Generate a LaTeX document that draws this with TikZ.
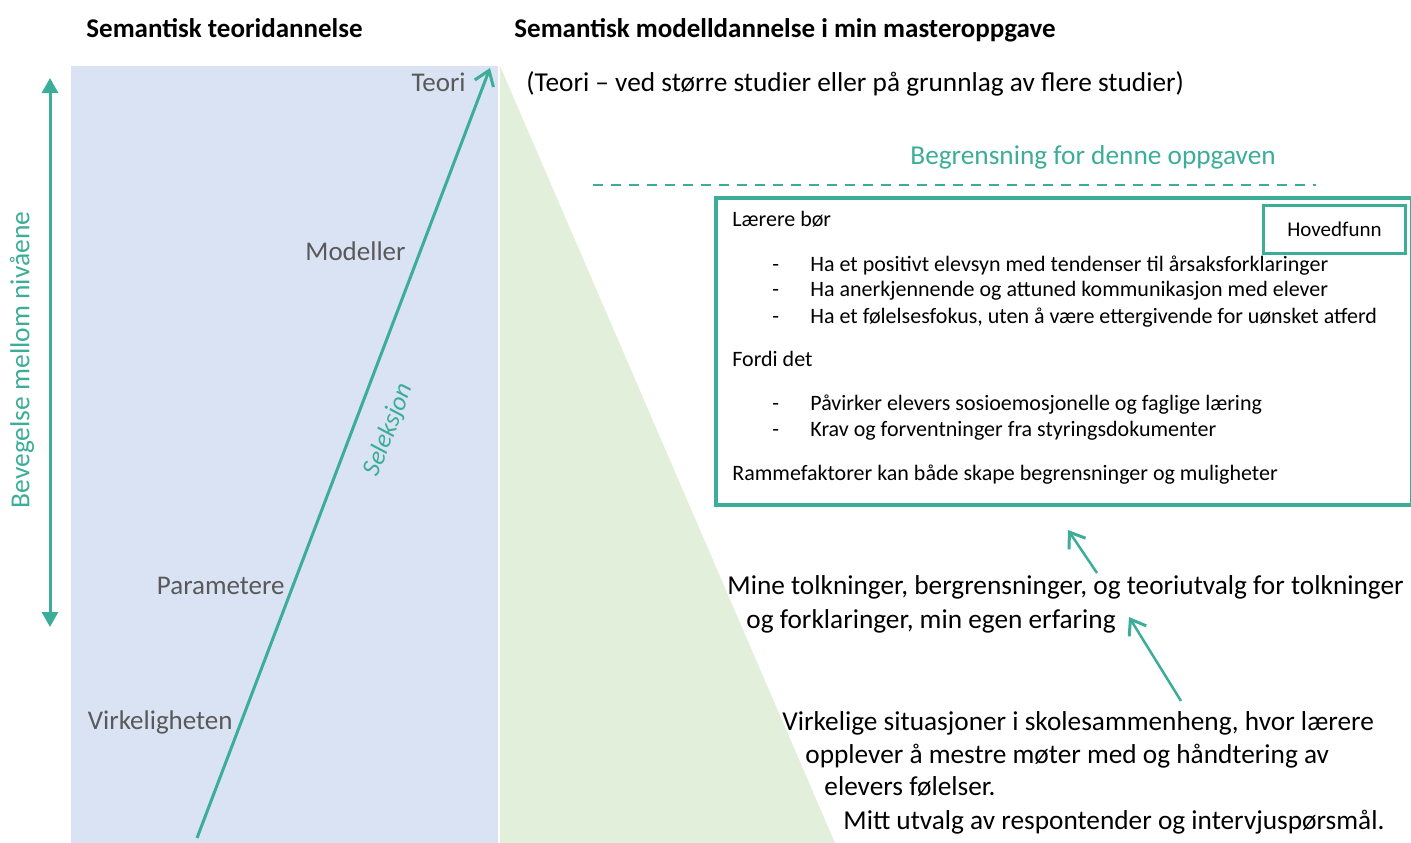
\documentclass[tikz,border=0pt]{standalone}
\usepackage{fontspec}
\setmainfont{Carlito}
\usetikzlibrary{positioning, arrows.meta}
\definecolor{tealline}{HTML}{3CAD98}
\definecolor{bluebg}{HTML}{DAE3F3}
\definecolor{greenbg}{HTML}{E2EFDA}
\definecolor{graytxt}{HTML}{595959}

\begin{document}
\begin{tikzpicture}[x=1pt, y=-1pt, thick,
    heading/.style={font=\bfseries\fontsize{27}{32}\selectfont, anchor=base west, inner sep=0pt},
    level/.style={font=\fontsize{27}{32}\selectfont, text=graytxt, anchor=base east, inner sep=0pt},
    body/.style={font=\fontsize{27.3}{32}\selectfont, anchor=base west, inner sep=0pt},
    boxtext/.style={font=\fontsize{22}{26}\selectfont, anchor=base west, inner sep=0pt},
    tealarrow/.style={draw=tealline, line width=3pt, -{Straight Barb[length=14pt, width=20pt, line width=3pt]}}]
        \useasboundingbox (0,0) rectangle (1411,843);

        % Background areas
        \fill[bluebg] (71,66) rectangle (498,843);
        \fill[greenbg] (500,66) -- (835,843) -- (500,843) -- cycle;

        % Headings
        \node[heading] (head1) at (86,38) {Semantisk teoridannelse};
        \node[heading] (head2) at (514,38) {Semantisk modelldannelse i min masteroppgave};

        % Left double arrow
        \coordinate (lvtop) at (50,78);
        \coordinate (lvbot) at (50,627);
        \draw[tealline, line width=3pt, {Triangle[length=15pt, width=16pt]}-{Triangle[length=15pt, width=16pt]}] (lvtop) -- (lvbot);
        \node[text=tealline, font=\fontsize{27.5}{32}\selectfont, rotate=90, inner sep=0pt] (beveg) at (22,360) {Bevegelse mellom nivåene};

        % Selection arrow and levels
        \coordinate (sel0) at (197,838);
        \coordinate (sel1) at (490,68);
        \draw[tealarrow] (sel0) -- (sel1);
        \node[text=tealline, font=\itshape\fontsize{26}{30}\selectfont, rotate=69, inner sep=0pt] (selek) at (389,430) {Seleksjon};
        \node[level] (teori) at (466,92) {Teori};
        \node[level] (modeller) at (406,260) {Modeller};
        \node[level] (param) at (285,594) {Parametere};
        \node[level] (virk) at (233,729) {Virkeligheten};

        % Right side texts
        \node[body] (note) at (526,92) {(Teori – ved større studier eller på grunnlag av flere studier)};
        \node[body, text=tealline] (begr) at (910,164) {Begrensning for denne oppgaven};
        \draw[tealline, line width=1.5pt, dash pattern=on 10pt off 8pt] (593,185) -- (1316,185);

        % Main findings box
        \node[draw=tealline, line width=3.5pt, minimum width=696pt, minimum height=307pt, anchor=north west, inner sep=0pt] (funn) at (714,196) {};
        \node[draw=tealline, line width=3pt, minimum width=142pt, minimum height=48pt, anchor=north west, font=\fontsize{21}{25}\selectfont] (hoved) at (1262,204) {Hovedfunn};
        \node[boxtext] (laerere) at (732,226) {Lærere bør};
        \node[boxtext] (d1) at (772,271) {-};
        \node[boxtext] (d2) at (772,296) {-};
        \node[boxtext] (d3) at (772,323) {-};
        \node[boxtext] (b1) at (810,271) {Ha et positivt elevsyn med tendenser til årsaksforklaringer};
        \node[boxtext] (b2) at (810,296) {Ha anerkjennende og attuned kommunikasjon med elever};
        \node[boxtext] (b3) at (810,323) {Ha et følelsesfokus, uten å være ettergivende for uønsket atferd};
        \node[boxtext] (fordi) at (732,366) {Fordi det};
        \node[boxtext] (d4) at (772,410) {-};
        \node[boxtext] (d5) at (772,436) {-};
        \node[boxtext] (b4) at (810,410) {Påvirker elevers sosioemosjonelle og faglige læring};
        \node[boxtext] (b5) at (810,436) {Krav og forventninger fra styringsdokumenter};
        \node[boxtext] (ramme) at (732,480) {Rammefaktorer kan både skape begrensninger og muligheter};

        % Interpretations and reality
        \node[body] (mine1) at (727,594) {Mine tolkninger, bergrensninger, og teoriutvalg for tolkninger};
        \node[body] (mine2) at (746,628) {og forklaringer, min egen erfaring};
        \node[body] (vs1) at (782,730) {Virkelige situasjoner i skolesammenheng, hvor lærere};
        \node[body] (vs2) at (805,763) {opplever å mestre møter med og håndtering av};
        \node[body] (vs3) at (824,795) {elevers følelser.};
        \node[body] (vs4) at (843,829) {Mitt utvalg av respontender og intervjuspørsmål.};

        % Arrows between levels
        \coordinate (a1s) at (1097,573);
        \coordinate (a1e) at (1068,530);
        \coordinate (a2s) at (1181,701);
        \coordinate (a2e) at (1129,617);
        \draw[tealarrow, line width=2.5pt] (a1s) -- (a1e);
        \draw[tealarrow, line width=2.5pt] (a2s) -- (a2e);
    \end{tikzpicture}
\end{document}
